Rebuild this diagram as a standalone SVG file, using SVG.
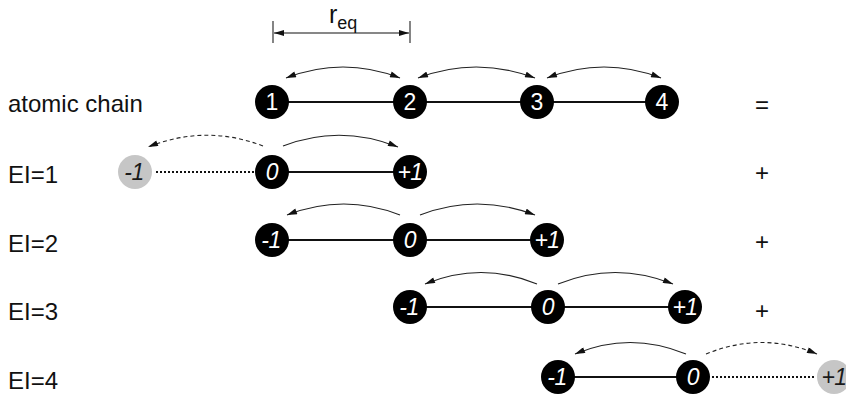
<svg xmlns="http://www.w3.org/2000/svg" width="846" height="395" viewBox="0 0 846 395">
<defs>
<style>
.lbl{font-family:"Liberation Sans",Arial,sans-serif;font-size:24px;fill:#111}
.op{font-family:"Liberation Sans",Arial,sans-serif;font-size:24px;fill:#111;text-anchor:middle}
.n{fill:#000}
.g{fill:#c6c6c6}
.nt{font-family:"Liberation Sans",Arial,sans-serif;font-size:23px;fill:#fff;text-anchor:middle}
.it{font-style:italic;letter-spacing:-0.5px}
.gt{fill:#1a1a1a}
.bond{stroke:#111;stroke-width:1.8;fill:none}
.dot{stroke:#111;stroke-width:1.8;fill:none;stroke-dasharray:2 2}
.arc{stroke:#222;stroke-width:1.1;fill:none}
.darc{stroke:#222;stroke-width:1.1;fill:none;stroke-dasharray:4 3}
</style>
<marker id="ah" viewBox="0 0 10 6" refX="10" refY="3" markerWidth="11" markerHeight="6" markerUnits="userSpaceOnUse" orient="auto-start-reverse">
<path d="M0,0 L10,3 L0,6 Z" fill="#111"/>
</marker>
</defs>

<g id="labels">
<text class="lbl" x="8" y="112">atomic chain</text>
<text class="lbl" x="8" y="183">EI=1</text>
<text class="lbl" x="8" y="252">EI=2</text>
<text class="lbl" x="8" y="320">EI=3</text>
<text class="lbl" x="8" y="389">EI=4</text>
<text class="op" x="762" y="113">=</text>
<text class="op" x="762" y="181">+</text>
<text class="op" x="762" y="250">+</text>
<text class="op" x="762" y="319">+</text>
</g>

<g id="req">
<line x1="273" y1="21" x2="273" y2="43" stroke="#333" stroke-width="1.2"/>
<line x1="410" y1="21" x2="410" y2="43" stroke="#333" stroke-width="1.2"/>
<line x1="274" y1="33" x2="409" y2="33" stroke="#111" stroke-width="1.1" marker-start="url(#ah)" marker-end="url(#ah)"/>
<text x="329" y="23" style="font-family:'Liberation Sans',Arial,sans-serif;font-size:25px;fill:#111">r<tspan dy="6" style="font-size:18px">eq</tspan></text>
</g>

<g id="connectors">
<!-- atomic chain -->
<line class="bond" x1="272" y1="102" x2="662" y2="102"/>
<path class="arc" d="M286,78 Q343,56 400,78" marker-start="url(#ah)" marker-end="url(#ah)"/>
<path class="arc" d="M418,78 Q476,56 535,78" marker-start="url(#ah)" marker-end="url(#ah)"/>
<path class="arc" d="M547,78 Q604,56 661,78" marker-start="url(#ah)" marker-end="url(#ah)"/>
<!-- EI=1 -->
<line class="dot" x1="156" y1="172" x2="254" y2="172"/>
<line class="bond" x1="272" y1="172" x2="410" y2="172"/>
<path class="darc" d="M263,146 Q206,124 148,147" marker-end="url(#ah)"/>
<path class="arc" d="M283,146 Q340,124 398,147" marker-end="url(#ah)"/>
<!-- EI=2 -->
<line class="bond" x1="272" y1="240" x2="547" y2="240"/>
<path class="arc" d="M400,215 Q344,193 287,215" marker-end="url(#ah)"/>
<path class="arc" d="M420,215 Q477,193 535,215" marker-end="url(#ah)"/>
<!-- EI=3 -->
<line class="bond" x1="410" y1="307" x2="685" y2="307"/>
<path class="arc" d="M537,284 Q481,261 425,284" marker-end="url(#ah)"/>
<path class="arc" d="M558,284 Q615,261 673,284" marker-end="url(#ah)"/>
<!-- EI=4 -->
<line class="bond" x1="558" y1="377" x2="693" y2="377"/>
<line class="dot" x1="712" y1="377" x2="816" y2="377"/>
<path class="arc" d="M686,354 Q630,331 575,354" marker-end="url(#ah)"/>
<path class="darc" d="M706,354 Q762,331 817,354" marker-end="url(#ah)"/>
</g>

<g id="chain">
<g id="a1"><circle class="n" cx="272" cy="102" r="17"/><text class="nt" x="272" y="110">1</text></g>
<g id="a2"><circle class="n" cx="410" cy="102" r="17"/><text class="nt" x="410" y="110">2</text></g>
<g id="a3"><circle class="n" cx="537" cy="102" r="17"/><text class="nt" x="537" y="110">3</text></g>
<g id="a4"><circle class="n" cx="662" cy="102" r="17"/><text class="nt" x="662" y="110">4</text></g>
</g>

<g id="ei1">
<g id="ei1-m1"><circle class="g" cx="135" cy="172" r="17"/><text class="nt it gt" x="134" y="180">-1</text></g>
<g id="ei1-0"><circle class="n" cx="272" cy="172" r="17"/><text class="nt it" x="272" y="180">0</text></g>
<g id="ei1-p1"><circle class="n" cx="410" cy="172" r="17"/><text class="nt it" x="410" y="180">+1</text></g>
</g>

<g id="ei2">
<g id="ei2-m1"><circle class="n" cx="272" cy="240" r="17"/><text class="nt it" x="271" y="248">-1</text></g>
<g id="ei2-0"><circle class="n" cx="410" cy="240" r="17"/><text class="nt it" x="410" y="248">0</text></g>
<g id="ei2-p1"><circle class="n" cx="547" cy="240" r="17"/><text class="nt it" x="547" y="248">+1</text></g>
</g>

<g id="ei3">
<g id="ei3-m1"><circle class="n" cx="410" cy="307" r="17"/><text class="nt it" x="409" y="315">-1</text></g>
<g id="ei3-0"><circle class="n" cx="548" cy="307" r="17"/><text class="nt it" x="548" y="315">0</text></g>
<g id="ei3-p1"><circle class="n" cx="685" cy="307" r="17"/><text class="nt it" x="685" y="315">+1</text></g>
</g>

<g id="ei4">
<g id="ei4-m1"><circle class="n" cx="558" cy="377" r="17"/><text class="nt it" x="557" y="385">-1</text></g>
<g id="ei4-0"><circle class="n" cx="693" cy="377" r="17"/><text class="nt it" x="693" y="385">0</text></g>
<g id="ei4-p1"><circle class="g" cx="834" cy="377" r="17"/><text class="nt it gt" x="834" y="385">+1</text></g>
</g>
</svg>
